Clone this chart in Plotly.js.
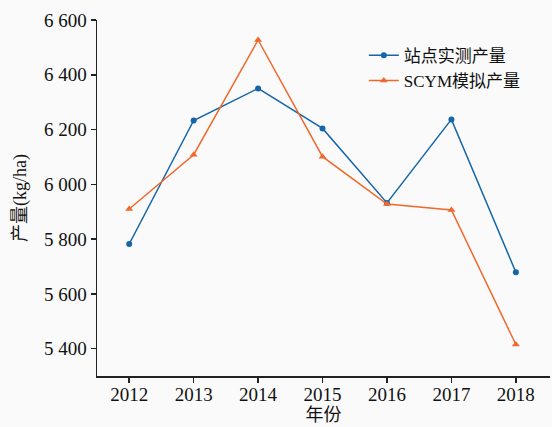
<!DOCTYPE html>
<html><head><meta charset="utf-8">
<script src="https://cdn.plot.ly/plotly-3.0.1.min.js"></script>
<style>html,body{margin:0;padding:0;background:#fafafa;}</style>
</head><body>
<div id="chart" style="width:552px;height:427px;"></div>
<script>
const years = [2012, 2013, 2014, 2015, 2016, 2017, 2018];
const observed = [5782, 6233, 6350, 6204, 5932, 6237, 5679];
const simulated = [5910, 6108, 6527, 6101, 5928, 5906, 5415];
const yTicks = [5400, 5600, 5800, 6000, 6200, 6400, 6600];
const seriesNames = ['站点实测产量', 'SCYM模拟产量'];

const font = "Times New Roman, Liberation Serif, Noto Sans CJK SC, serif";
const traces = [
  {x: years, y: observed, name: seriesNames[0], mode: 'lines+markers',
   line: {color: '#1565a8', width: 1.5}, marker: {symbol: 'circle', size: 6, color: '#1565a8'}},
  {x: years, y: simulated, name: seriesNames[1], mode: 'lines+markers',
   line: {color: '#f0682c', width: 1.5}, marker: {symbol: 'triangle-up', size: 7, color: '#f0682c'}}
];
const layout = {
  width: 552, height: 427,
  paper_bgcolor: '#fafafa', plot_bgcolor: '#fafafa',
  margin: {l: 97, r: 2, t: 20, b: 51},
  separators: '. ',
  font: {family: font, size: 19, color: '#111'},
  showlegend: true,
  legend: {x: 0.589, y: 0.95, xanchor: 'left', yanchor: 'top', bgcolor: 'rgba(0,0,0,0)',
           font: {size: 17, family: font}, itemwidth: 30, tracegroupgap: 0},
  xaxis: {range: [2011.5, 2018.53], tickvals: years, ticktext: years.map(String),
          showgrid: false, zeroline: false, showline: true, linecolor: '#222', linewidth: 1.5,
          ticks: 'outside', ticklen: 5, tickwidth: 1.5, tickcolor: '#222', ticklabelstandoff: -4,
          title: {text: '年份', font: {size: 18}, standoff: 0}},
  yaxis: {range: [5300, 6600], tickvals: yTicks, tickformat: ',d',
          showgrid: false, zeroline: false, showline: true, linecolor: '#222', linewidth: 1.5,
          ticks: 'outside', ticklen: 5, tickwidth: 1.5, tickcolor: '#222',
          title: {text: '产量(kg/ha)', font: {size: 18}, standoff: 12}}
};
Plotly.newPlot('chart', traces, layout, {displayModeBar: false, staticPlot: true});
</script>
</body></html>
